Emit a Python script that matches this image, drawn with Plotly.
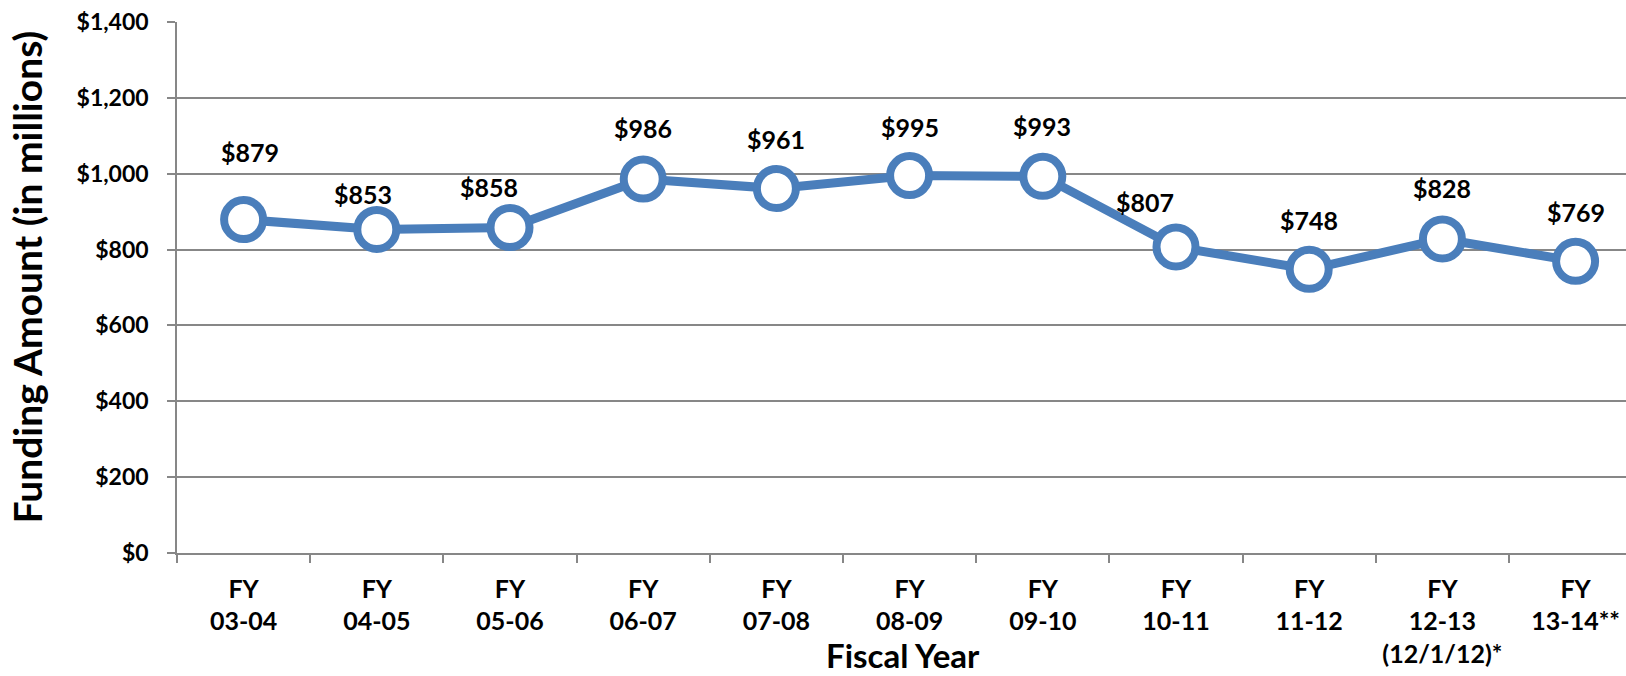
import plotly.graph_objects as go

# Fiscal years (two-line category labels) and total funding, $ millions
fiscal_years = [
    "FY<br>03-04", "FY<br>04-05", "FY<br>05-06", "FY<br>06-07", "FY<br>07-08",
    "FY<br>08-09", "FY<br>09-10", "FY<br>10-11", "FY<br>11-12",
    "FY<br>12-13<br>(12/1/12)*", "FY<br>13-14**",
]
funding = [879, 853, 858, 986, 961, 995, 993, 807, 748, 828, 769]
value_labels = ["$879", "$853", "$858", "$986", "$961", "$995", "$993",
                "$807", "$748", "$828", "$769"]

y_tick_values = [0, 200, 400, 600, 800, 1000, 1200, 1400]
y_tick_labels = ["$0", "$200", "$400", "$600", "$800", "$1,000", "$1,200", "$1,400"]

# hand-placed label nudges (pixels), per point
label_dx = [6, -14, -21, 0, 0, 0, -1, -31, 0, 0, 0]
label_dy = [68, 35, 41, 51, 50, 49, 50, 45, 49, 51, 49]

BLUE = "#4A7EBB"
GRID = "#878787"
FONT = "Lato"

W, H = 1626, 676
ML, MR, MT, MB = 177, 0, 22, 123
CAT_W = 133.2  # pixel width of one category slot
x_hi = -0.5 + (W - ML - MR) / CAT_W

fig = go.Figure()
fig.add_trace(go.Scatter(
    x=fiscal_years,
    y=funding,
    mode="lines+markers",
    line=dict(color=BLUE, width=9),
    marker=dict(size=39, color="white", line=dict(color=BLUE, width=8)),
    hoverinfo="skip",
    cliponaxis=False,
))

for xi, yi, txt, dx, dy in zip(fiscal_years, funding, value_labels, label_dx, label_dy):
    fig.add_annotation(
        x=xi, y=yi, text=txt, showarrow=False,
        xanchor="center", yanchor="middle",
        xshift=dx, yshift=dy,
        font=dict(family=FONT, size=25, color="black", weight="bold"),
    )

# axis titles
fig.add_annotation(
    xref="paper", yref="paper", x=0, y=0.5,
    xshift=-151, yshift=10, textangle=-90,
    text="Funding Amount (in millions)", showarrow=False,
    xanchor="center", yanchor="middle",
    font=dict(family=FONT, size=39, color="black", weight="bold"),
)
fig.add_annotation(
    xref="paper", yref="paper", x=(903 - ML) / (W - ML - MR), y=0,
    yshift=-(655 - (H - MB)), text="Fiscal Year", showarrow=False,
    xanchor="center", yanchor="middle",
    font=dict(family=FONT, size=33, color="black", weight="bold"),
)

fig.update_layout(
    width=W, height=H,
    margin=dict(l=ML, r=MR, t=MT, b=MB, pad=0, autoexpand=False),
    paper_bgcolor="white",
    plot_bgcolor="white",
    showlegend=False,
    font=dict(family=FONT, color="black"),
)
fig.update_xaxes(
    type="category",
    range=[-0.5, x_hi],
    tickson="boundaries",
    tickangle=0, automargin=False,
    ticks="outside", ticklen=8, tickwidth=1.5, tickcolor=GRID,
    showline=True, linecolor=GRID, linewidth=1.5,
    showgrid=False, zeroline=False,
    tickfont=dict(family=FONT, size=25, color="black", weight="bold"),
    ticklabelstandoff=13,
)
fig.update_yaxes(
    range=[0, 1400],
    tickvals=y_tick_values, ticktext=y_tick_labels,
    automargin=False,
    ticks="outside", ticklen=8, tickwidth=1.5, tickcolor=GRID,
    showline=True, linecolor=GRID, linewidth=1.5,
    showgrid=True, gridcolor=GRID, gridwidth=1.5,
    zeroline=False,
    tickfont=dict(family=FONT, size=23, color="black", weight="bold"),
    ticklabelstandoff=14,
)

fig.write_html("out.html")
